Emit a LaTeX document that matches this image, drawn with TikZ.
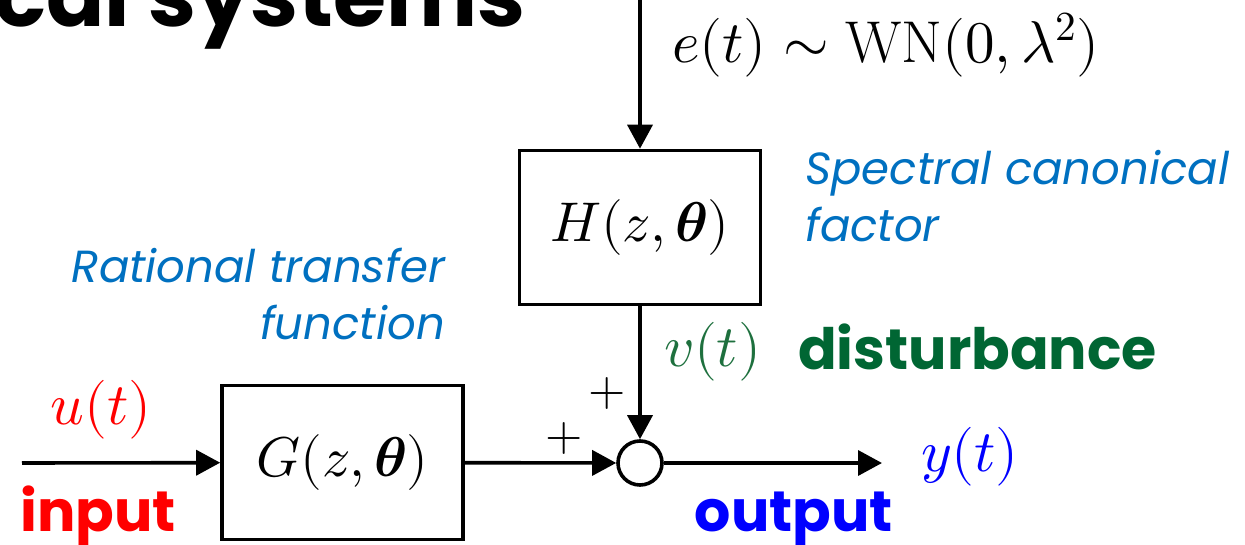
\documentclass[tikz,border=0pt]{standalone}
\usepackage{fontspec}
\usepackage{unicode-math}
\newfontfamily\labfont{Poppins}
\usetikzlibrary{arrows.meta}
\definecolor{lblue}{RGB}{0,112,192}
\definecolor{dgreen}{RGB}{0,102,51}
\definecolor{vgreen}{RGB}{30,112,62}
\begin{document}
\begin{tikzpicture}[x=1pt,y=-1pt,
  blk/.style={draw,line width=3.6pt,minimum width=241pt,minimum height=154pt,inner sep=0pt,font=\fontsize{56}{60}\selectfont},
  sumnode/.style={draw,circle,line width=3.6pt,minimum size=44pt,inner sep=0pt},
  sig/.style={line width=3.6pt,-{Triangle[length=24pt,width=25pt]}},
  mth/.style={inner sep=0pt,font=\fontsize{59}{62}\selectfont},
  pls/.style={inner sep=0pt,font=\fontsize{48}{48}\selectfont},
  lab/.style={inner sep=0pt,font=\labfont\bfseries\fontsize{57}{60}\selectfont},
  ital/.style={inner sep=0pt,font=\labfont\itshape\fontsize{45}{57}\selectfont,text=lblue}]
\useasboundingbox (0,0) rectangle (1245,545);
\clip (0,0) rectangle (1245,545);
% title (cut off)
\node[anchor=base east,inner sep=0pt,font=\labfont\bfseries\fontsize{86}{90}\selectfont] (title) at (526,27) {cal systems};
% blocks
\node[blk] (H) at (640,227.5) {$H(z,\symbfit{\theta})$};
\node[blk] (G) at (342.5,462.5) {$G(z,\symbfit{\theta})$};
\node[sumnode] (S) at (640,463) {};
\coordinate (etop) at (640,-5);
\coordinate (uin) at (22,463);
\coordinate (yout) at (882,463);
\draw[sig] (etop) -- (H);
\draw[sig] (H) -- (S);
\draw[sig] (uin) -- (G);
\draw[sig] (G) -- (S);
\draw[sig] (S) -- (yout);
% math labels
\node[mth,anchor=west] (elab) at (672,45) {$e(t)\sim\mathrm{WN}(0,\lambda^2)$};
\node[mth,text=red] (ulab) at (101,410) {$u(t)$};
\node[mth,text=vgreen] (vlab) at (713,352) {$v(t)$};
\node[mth,text=blue] (ylab) at (970,457) {$y(t)$};
\node[pls] (p1) at (607,393) {$+$};
\node[pls] (p2) at (564,438) {$+$};
% word labels
\node[lab,text=red,anchor=base west] (inl) at (20,531) {input};
\node[lab,text=blue,anchor=base] (outl) at (794,531) {output};
\node[lab,text=dgreen,anchor=base west] (dist) at (798,370) {disturbance};
\node[ital,align=left,anchor=north west] (spec) at (805,150) {Spectral canonical\\factor};
\node[ital,align=right,anchor=north east] (rat) at (445,248) {Rational transfer\\function};
\end{tikzpicture}
\end{document}
